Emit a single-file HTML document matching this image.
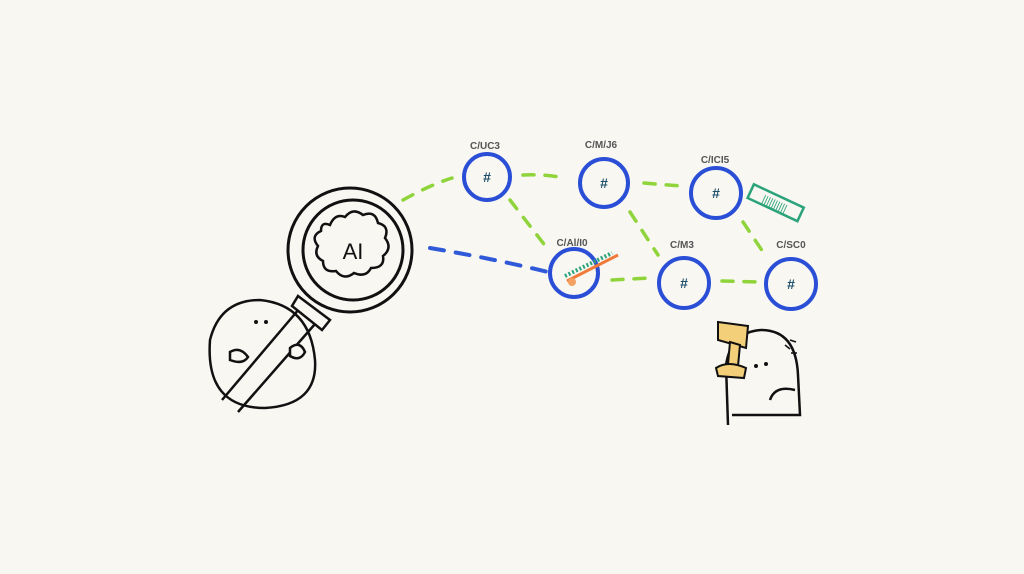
<!DOCTYPE html>
<html><head><style>body{margin:0;background:#f8f7f2}svg{display:block}</style></head><body>
<svg width="1024" height="574" viewBox="0 0 1024 574" xmlns="http://www.w3.org/2000/svg" font-family="Liberation Sans, sans-serif">
<rect width="1024" height="574" fill="#f8f7f2"/>
<g fill="none" stroke="#8fd43a" stroke-width="3.5" stroke-dasharray="11 11" stroke-linecap="round">
<path d="M403 200 Q430 185 452 178"/>
<path d="M523 175 Q545 174 565 178"/>
<path d="M644 183 Q665 185 685 186"/>
<path d="M510 200 L550 252"/>
<path d="M630 212 L658 255"/>
<path d="M743 222 L767 258"/>
<path d="M612 280 L650 278"/>
<path d="M722 281 L760 282"/>
</g>
<path d="M430 248 Q490 258 548 272" fill="none" stroke="#2f59d8" stroke-width="4" stroke-dasharray="14 12" stroke-linecap="round"/>
<g fill="none" stroke="#2a4fd6" stroke-width="4">
<circle cx="487" cy="177" r="23"/>
<circle cx="604" cy="183" r="24"/>
<circle cx="716" cy="193" r="25"/>
<circle cx="574" cy="273" r="24"/>
<circle cx="684" cy="283" r="25"/>
<circle cx="791" cy="284" r="25"/>
</g>
<g fill="#1e4f6a" font-size="14" font-weight="bold" text-anchor="middle">
<text x="487" y="182">#</text><text x="604" y="188">#</text><text x="716" y="198">#</text>
<text x="684" y="288">#</text><text x="791" y="289">#</text>
</g>
<g fill="#555" font-size="10" text-anchor="middle" font-weight="bold">
<text x="485" y="149">C/UC3</text><text x="601" y="148">C/M/J6</text><text x="715" y="163">C/ICI5</text>
<text x="572" y="246">C/Al/I0</text><text x="682" y="248">C/M3</text><text x="791" y="248">C/SC0</text>
</g>
<g transform="rotate(25 775 203)"><rect x="748" y="195" width="55" height="15" fill="none" stroke="#2aa37a" stroke-width="2.5"/><text x="775" y="207" font-size="10" fill="#2aa37a" text-anchor="middle">||||||||||</text></g>
<path d="M567 281 L618 255" stroke="#f07a3a" stroke-width="3"/>
<circle cx="572" cy="282" r="4" fill="#f3a060"/>
<path d="M565 276 L612 253" stroke="#2aa37a" stroke-width="4" stroke-dasharray="2 2"/>
<g fill="none" stroke="#111" stroke-width="3">
<circle cx="350" cy="250" r="62"/>
<circle cx="353" cy="250" r="50"/>
<path d="M330 225 q5-12 15-8 q8-10 18-2 q12-5 15 8 q12 3 7 15 q8 10-2 18 q2 12-12 12 q-5 10-17 5 q-10 8-18-2 q-13 2-13-10 q-10-5-5-15 q-8-10 3-15 q0-10 9-6z" stroke-width="2.5"/>
<path d="M210 340 q10-40 50-40 q50 5 55 60 q3 45-50 48 q-60 0-55-68z" stroke-width="2.5"/>
<path d="M305 302 L222 400 M322 316 L238 412" stroke-width="2.5"/>
<path d="M298 296 L330 320 L322 330 L292 306z" fill="#f8f7f2" stroke-width="2.5"/>
<path d="M230 352 q10-6 18 5 q-5 8-18 3z M290 348 q10-8 15 4 q-5 10-15 4z" fill="#f8f7f2" stroke-width="2.5"/>
<path d="M728 425 L726 365 q5-33 35-35 q35 0 37 45 L800 415 L732 415" stroke-width="2.5"/>
<path d="M770 400 q5-15 25-10" stroke-width="2.5"/>
<path d="M785 345 l5 4 M790 340 l6 2 M791 353 l6 0" stroke-width="1.5"/>
</g>
<text x="353" y="259" font-size="22" text-anchor="middle" fill="#111">AI</text>
<circle cx="256" cy="322" r="2" fill="#111"/><circle cx="266" cy="322" r="2" fill="#111"/>
<circle cx="756" cy="366" r="2" fill="#111"/><circle cx="766" cy="364" r="2" fill="#111"/>
<g stroke="#111" stroke-width="2" fill="#f3cf7a">
<path d="M718 322 L748 326 L746 348 L718 340z"/>
<path d="M730 342 L740 345 L738 366 L728 364z"/>
<path d="M716 368 q12-8 30 0 L744 378 L718 376z"/>
</g>
</svg>
</body></html>
